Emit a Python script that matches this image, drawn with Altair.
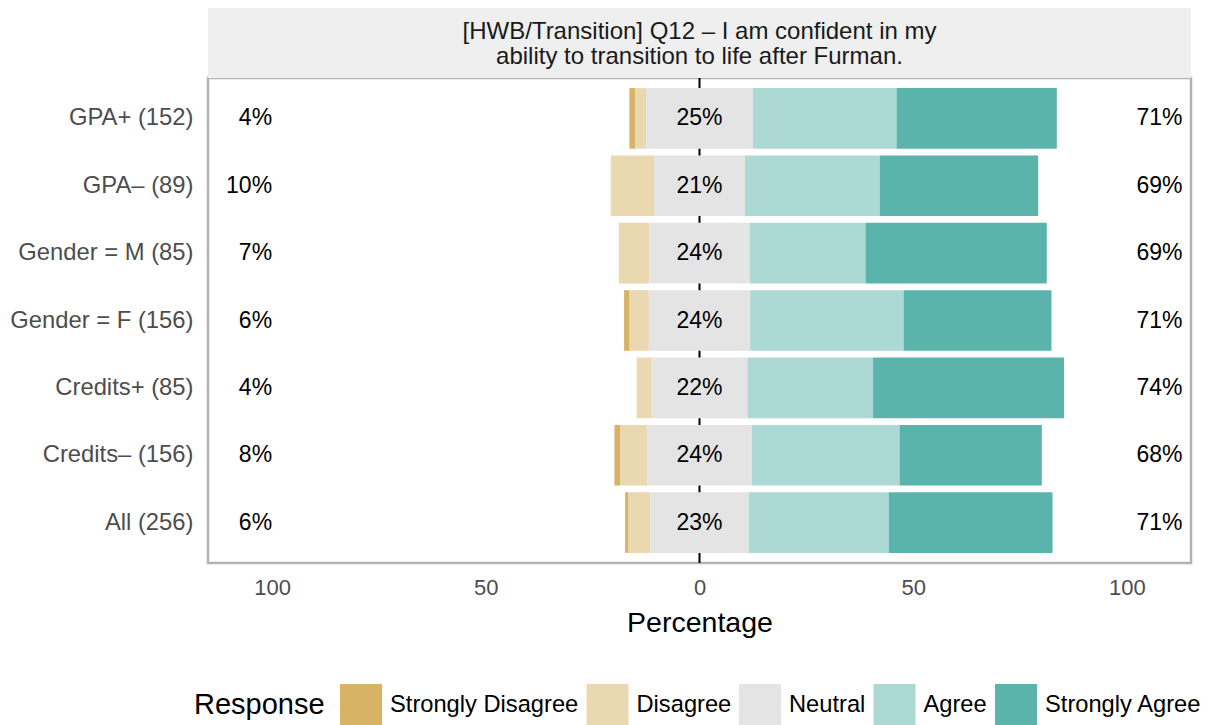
import altair as alt
import pandas as pd

# ---- data ----
groups = ["GPA+ (152)", "GPA– (89)", "Gender = M (85)", "Gender = F (156)",
          "Credits+ (85)", "Credits– (156)", "All (256)"]
responses = ["Strongly Disagree", "Disagree", "Neutral", "Agree", "Strongly Agree"]
strongly_disagree = [1.3, 0.0, 0.0, 1.3, 0.0, 1.3, 0.8]
disagree = [2.6, 10.1, 7.1, 4.5, 3.5, 6.4, 5.1]
neutral = [25.0, 21.3, 23.5, 23.7, 22.4, 24.4, 23.0]
agree = [33.6, 31.5, 27.1, 35.9, 29.4, 34.6, 32.8]
strongly_agree = [37.5, 37.1, 42.4, 34.6, 44.7, 33.3, 38.3]
low_labels = ["4%", "10%", "7%", "6%", "4%", "8%", "6%"]
neutral_labels = ["25%", "21%", "24%", "24%", "22%", "24%", "23%"]
high_labels = ["71%", "69%", "69%", "71%", "74%", "68%", "71%"]
x_ticks = [-100, -50, 0, 50, 100]
colors = ["#D8B365", "#EAD8B1", "#E4E4E4", "#ADD9D5", "#5AB4AC"]
title_lines = ["[HWB/Transition] Q12 – I am confident in my",
               "ability to transition to life after Furman."]

# ---- build diverging segments ----
rows = []
for i, g in enumerate(groups):
    h = neutral[i] / 2
    segs = [
        ("Strongly Disagree", -h - disagree[i] - strongly_disagree[i], -h - disagree[i]),
        ("Disagree", -h - disagree[i], -h),
        ("Neutral", -h, h),
        ("Agree", h, h + agree[i]),
        ("Strongly Agree", h + agree[i], h + agree[i] + strongly_agree[i]),
    ]
    for r, s, e in segs:
        if e - s > 0:
            rows.append({"group": g, "response": r, "start": s, "end": e,
                         "order": responses.index(r)})
bars_df = pd.DataFrame(rows)
labels_df = pd.DataFrame({"group": groups, "low": low_labels, "mid": neutral_labels,
                          "high": high_labels, "xl": -100.0, "xm": 0, "xh": 113.0})

W, H = 983, 485
FONT = "Liberation Sans"

xscale = alt.Scale(domain=[-115, 115], nice=False, zero=False)
yscale = alt.Scale(domain=groups, paddingInner=0.1, paddingOuter=0.15)

xaxis = alt.Axis(values=x_ticks, labelExpr="abs(datum.value)", title="Percentage",
                 grid=False, domain=False, ticks=False, labelFontSize=22,
                 labelColor="#4D4D4D", labelPadding=14, titleFontSize=28.5,
                 titleFontWeight="normal", titleColor="#000000", titlePadding=10)
yaxis = alt.Axis(title=None, grid=False, domain=False, ticks=False, labelFontSize=23.8,
                 labelColor="#4D4D4D", labelPadding=15, labelLimit=0)

zero = alt.Chart(pd.DataFrame({"x": [0]})).mark_rule(color="black", strokeWidth=2).encode(
    x=alt.X("x:Q", scale=xscale, axis=xaxis), y=alt.value(0), y2=alt.value(H))

bars = alt.Chart(bars_df).mark_bar().encode(
    x=alt.X("start:Q", scale=xscale, axis=xaxis),
    x2="end:Q",
    y=alt.Y("group:N", scale=yscale, axis=yaxis, sort=groups),
    color=alt.Color("response:N", scale=alt.Scale(domain=responses, range=colors),
                    legend=alt.Legend(title="Response", orient="none", legendX=-14,
                                      legendY=606, direction="horizontal",
                                      titleOrient="left", symbolType="square",
                                      symbolSize=1764, symbolStrokeWidth=0,
                                      labelFontSize=23.7, titleFontSize=29,
                                      titleFontWeight="normal", labelOffset=8,
                                      columnPadding=7.5, titlePadding=15, labelLimit=0,
                                      labelColor="#000000", titleColor="#000000",
                                      titleBaseline="middle")),
    order="order:Q",
)

base_t = alt.Chart(labels_df)
t_low = base_t.mark_text(align="right", fontSize=23, color="black").encode(
    x=alt.X("xl:Q", scale=xscale), y=alt.Y("group:N", scale=yscale, sort=groups), text="low:N")
t_mid = base_t.mark_text(align="center", fontSize=23, color="black").encode(
    x=alt.X("xm:Q", scale=xscale), y=alt.Y("group:N", scale=yscale, sort=groups), text="mid:N")
t_high = base_t.mark_text(align="right", fontSize=23, color="black").encode(
    x=alt.X("xh:Q", scale=xscale), y=alt.Y("group:N", scale=yscale, sort=groups), text="high:N")

strip_df = pd.DataFrame({"t1": [title_lines[0]], "t2": [title_lines[1]]})
strip = alt.Chart(strip_df).mark_rect(color="#EFEFEF").encode(
    x=alt.value(0), x2=alt.value(W), y=alt.value(-70), y2=alt.value(0))
strip_t1 = alt.Chart(strip_df).mark_text(fontSize=24, color="#1A1A1A", align="center").encode(
    x=alt.value(W / 2), y=alt.value(-46), text="t1:N")
strip_t2 = alt.Chart(strip_df).mark_text(fontSize=24, color="#1A1A1A", align="center").encode(
    x=alt.value(W / 2), y=alt.value(-21), text="t2:N")

chart = alt.layer(zero, bars, t_low, t_mid, t_high, strip, strip_t1, strip_t2).properties(
    width=W, height=H,
    autosize=alt.AutoSizeParams(type="none"),
    padding={"left": 200, "top": 70, "right": 19, "bottom": 162},
).configure(font=FONT).configure_view(stroke="#B3B3B3", strokeWidth=2.5)

chart.save("out.html", embed_options={"renderer": "svg", "actions": False})
